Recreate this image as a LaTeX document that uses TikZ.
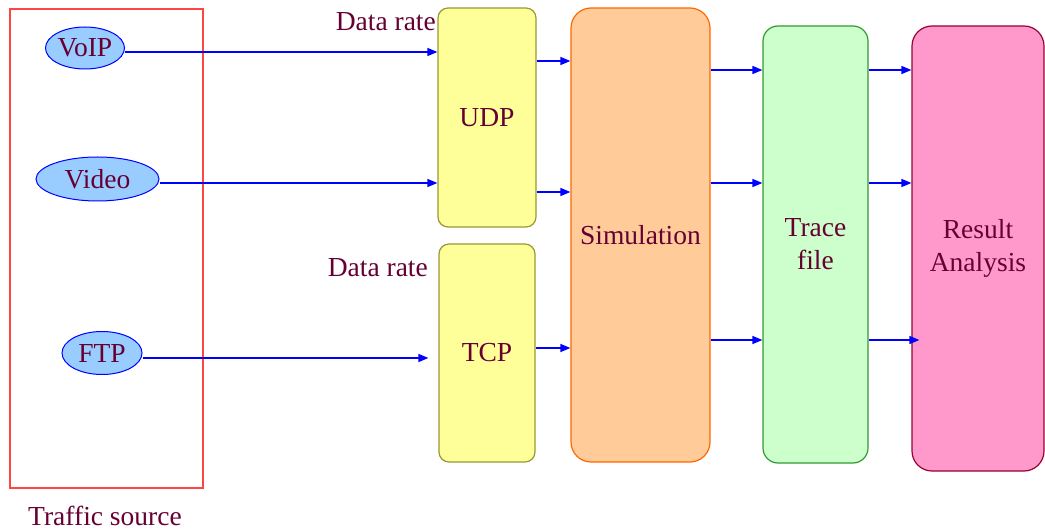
\documentclass[tikz,border=0pt]{standalone}
\usepackage{fontspec}
\setmainfont{Liberation Serif}
\usetikzlibrary{shapes.geometric,arrows.meta}
\definecolor{txt}{HTML}{660033}
\definecolor{flowblue}{HTML}{0000FF}
\definecolor{srcred}{HTML}{FF4444}
\definecolor{ellfill}{HTML}{99CCFF}
\definecolor{protofill}{HTML}{FFFF99}
\definecolor{protodraw}{HTML}{999933}
\definecolor{simfill}{HTML}{FFCC99}
\definecolor{simdraw}{HTML}{FF6600}
\definecolor{tracefill}{HTML}{CCFFCC}
\definecolor{tracedraw}{HTML}{339933}
\definecolor{resfill}{HTML}{FF99CC}
\definecolor{resdraw}{HTML}{990033}
\tikzset{
  every node/.style={text=txt, font=\fontsize{27.5}{33}\selectfont},
  app/.style={ellipse, draw=flowblue, fill=ellfill, line width=1pt, inner sep=0pt},
  block/.style={rectangle, line width=1.2pt, inner sep=0pt, align=center},
  flow/.style={draw=flowblue, line width=1.4pt, -{Triangle[length=10pt,width=8pt]}},
  lbl/.style={inner sep=0pt}
}
\begin{document}
\begin{tikzpicture}[x=1pt,y=-1pt]
\useasboundingbox (0,0) rectangle (1045,529);

% traffic source frame
\node[rectangle, draw=srcred, line width=1.2pt, minimum width=193pt, minimum height=479pt, inner sep=0pt] (src) at (106.5,248.5) {};
\node[lbl] (srclbl) at (105,516) {Traffic source};

% applications
\node[app, minimum width=79pt, minimum height=42pt] (voip) at (85,48) {VoIP};
\node[app, minimum width=123pt, minimum height=44pt] (video) at (97.5,179) {Video};
\node[app, minimum width=80pt, minimum height=43pt] (ftp) at (102,353) {FTP};

% transport, simulation and analysis blocks
\node[block, draw=protodraw, fill=protofill, rounded corners=10pt, minimum width=98pt, minimum height=219pt] (udp) at (487,117.5) {UDP};
\node[block, draw=protodraw, fill=protofill, rounded corners=10pt, minimum width=96pt, minimum height=218pt] (tcp) at (487,353) {TCP};
\node[block, draw=simdraw, fill=simfill, rounded corners=20pt, minimum width=139pt, minimum height=454pt] (sim) at (640.5,235) {Simulation};
\node[block, draw=tracedraw, fill=tracefill, rounded corners=15pt, minimum width=105pt, minimum height=437pt] (trace) at (815.5,244.5) {Trace\\file};
\node[block, draw=resdraw, fill=resfill, rounded corners=20pt, minimum width=132pt, minimum height=445pt] (res) at (978,248.5) {Result\\Analysis};

% data rate labels
\node[lbl, anchor=east] (rate1) at (436,22) {Data rate};
\node[lbl, anchor=east] (rate2) at (428,268) {Data rate};

% application flows
\draw[flow] ([yshift=-4pt]voip.east) -- ([yshift=-4pt]voip.east -| udp.west);
\draw[flow] ([yshift=-4pt]video.east) -- ([yshift=-4pt]video.east -| udp.west);
\draw[flow] ([yshift=-5pt]ftp.east) -- ([yshift=-5pt,xshift=-10pt]ftp.east -| tcp.west);

% transport to simulation
\draw[flow] (udp.east |- 0,61) -- (sim.west |- 0,61);
\draw[flow] (udp.east |- 0,192) -- (sim.west |- 0,192);
\draw[flow] (tcp.east |- 0,348) -- (sim.west |- 0,348);

% simulation to trace file
\foreach \y in {70,183,340}
  \draw[flow] (sim.east |- 0,\y) -- (trace.west |- 0,\y);

% trace file to analysis
\draw[flow] (trace.east |- 0,70) -- (res.west |- 0,70);
\draw[flow] (trace.east |- 0,183) -- (res.west |- 0,183);
\draw[flow] (trace.east |- 0,340) -- ([xshift=8pt]res.west |- 0,340);
\end{tikzpicture}
\end{document}
